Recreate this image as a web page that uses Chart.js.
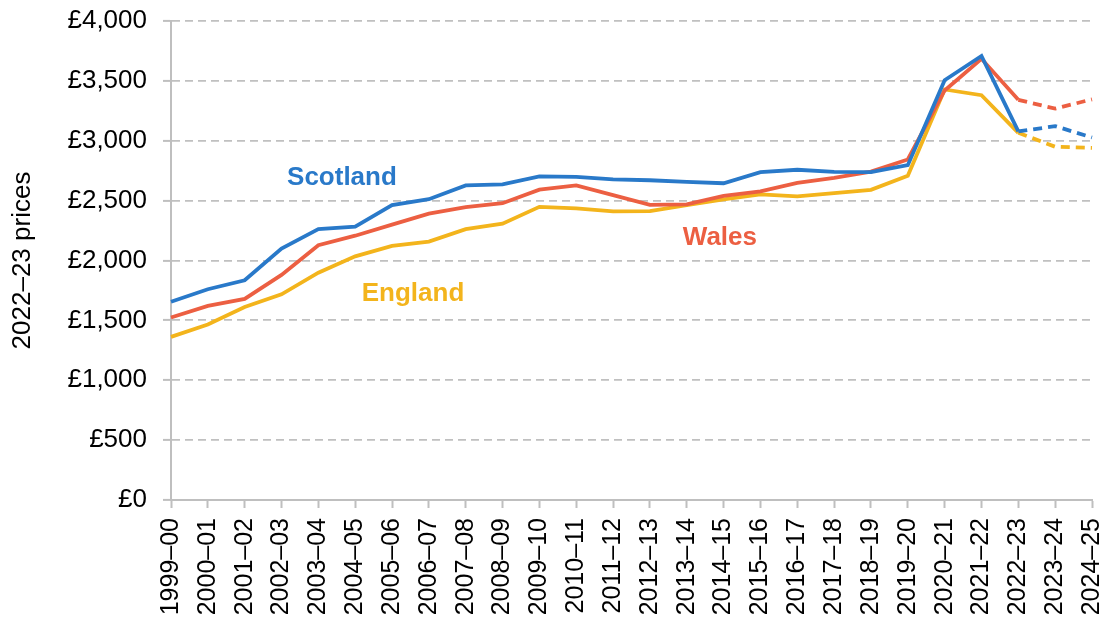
<!DOCTYPE html>
<html>
<head>
<meta charset="utf-8">
<script src="https://cdn.jsdelivr.net/npm/chart.js@4/dist/chart.umd.min.js"></script>
<style>
  html, body { margin: 0; padding: 0; background: #fff; }
  #wrap { width: 1101px; height: 622px; }
</style>
</head>
<body>
<div id="wrap"><canvas id="spendChart" width="1101" height="622"></canvas></div>
<script>
// financial years on the x axis
const years = [
    '1999–00', '2000–01', '2001–02', '2002–03', '2003–04', '2004–05',
    '2005–06', '2006–07', '2007–08', '2008–09', '2009–10', '2010–11',
    '2011–12', '2012–13', '2013–14', '2014–15', '2015–16', '2016–17',
    '2017–18', '2018–19', '2019–20', '2020–21', '2021–22', '2022–23',
    '2023–24', '2024–25'
];

// values in 2022–23 prices
const scotland = [1655, 1760, 1835, 2100, 2262, 2282, 2462, 2512, 2627, 2635,
                  2702, 2698, 2677, 2670, 2656, 2645, 2738, 2758, 2740, 2738,
                  2796, 3505, 3708, 3078, 3122, 3027];
const wales    = [1524, 1621, 1679, 1880, 2128, 2207, 2300, 2392, 2445, 2478,
                  2592, 2627, 2546, 2465, 2468, 2540, 2578, 2648, 2690, 2742,
                  2844, 3420, 3684, 3342, 3268, 3346];
const england  = [1362, 1465, 1612, 1718, 1898, 2035, 2122, 2158, 2262, 2308,
                  2448, 2435, 2410, 2412, 2462, 2510, 2552, 2535, 2562, 2590,
                  2708, 3428, 3380, 3066, 2950, 2940];

const yTicks = [0, 500, 1000, 1500, 2000, 2500, 3000, 3500, 4000];
const firstProjected = 23; // from 2022–23 on the lines are dashed

const blue = '#2979c9';
const red = '#ec5f42';
const yellow = '#f3b41c';

// series name labels placed in data terms (category index, value)
const seriesLabels = [
    { text: 'Scotland', at: 4.64, value: 2690, color: blue },
    { text: 'Wales', at: 14.9, value: 2192, color: red },
    { text: 'England', at: 6.57, value: 1720, color: yellow }
];

const projDash = ctx => ctx.p0DataIndex >= firstProjected ? [9, 6] : undefined;

function line(label, values, color) {
    return {
        label: label,
        data: values,
        borderColor: color,
        backgroundColor: color,
        borderWidth: 3.8,
        pointRadius: 0,
        pointHoverRadius: 0,
        tension: 0,
        segment: { borderDash: projDash }
    };
}

const labelPlugin = {
    id: 'seriesLabels',
    afterDatasetsDraw(chart) {
        const c = chart.ctx;
        const xs = chart.scales.x, ys = chart.scales.y;
        c.save();
        c.font = 'bold 26px "Liberation Sans", Arial, sans-serif';
        c.textAlign = 'center';
        c.textBaseline = 'middle';
        seriesLabels.forEach(l => {
            c.fillStyle = l.color;
            c.fillText(l.text, xs.getPixelForValue(l.at), ys.getPixelForValue(l.value));
        });
        c.restore();
    }
};

Chart.defaults.font.family = '"Liberation Sans", Arial, sans-serif';
Chart.defaults.color = '#000';

const ctx = document.getElementById('spendChart').getContext('2d');
const spendChart = new Chart(ctx, {
    type: 'line',
    data: {
        labels: years,
        datasets: [
            line('Scotland', scotland, blue),
            line('Wales', wales, red),
            line('England', england, yellow)
        ]
    },
    options: {
        responsive: false,
        animation: false,
        layout: { padding: 0 },
        scales: {
            x: {
                offset: false,
                grid: {
                    display: true,
                    drawOnChartArea: false,
                    drawTicks: true,
                    tickLength: 8,
                    tickColor: '#bfbfbf',
                    tickWidth: 2
                },
                border: { display: true, color: '#bfbfbf', width: 2 },
                ticks: {
                    autoSkip: false,
                    minRotation: 90,
                    maxRotation: 90,
                    padding: 10,
                    font: { size: 25 }
                },
                afterFit(scale) {
                    scale.height = 122;
                    scale.paddingLeft = 0;
                    scale.paddingRight = 9;
                }
            },
            y: {
                min: 0,
                max: 4000,
                afterBuildTicks(scale) {
                    scale.ticks = yTicks.map(v => ({ value: v }));
                },
                grid: {
                    color: '#c0c0c0',
                    lineWidth: 1.8,
                    drawTicks: true,
                    tickLength: 8,
                    tickColor: '#bfbfbf',
                    tickWidth: 2,
                    tickBorderDash: []
                },
                border: { display: true, color: '#bfbfbf', width: 2, dash: [8, 5] },
                ticks: {
                    padding: 16,
                    font: { size: 26 },
                    callback: v => '£' + v.toLocaleString('en-GB')
                },
                title: {
                    display: true,
                    text: '2022–23 prices',
                    font: { size: 26, lineHeight: 1.2 },
                    padding: { top: 7, bottom: 0 }
                },
                afterFit(scale) {
                    scale.width = 171;
                    scale.paddingTop = 21;
                    scale.paddingBottom = 0;
                }
            }
        },
        plugins: {
            legend: { display: false },
            tooltip: { enabled: false },
            title: { display: false }
        }
    },
    plugins: [labelPlugin]
});
</script>
</body>
</html>
